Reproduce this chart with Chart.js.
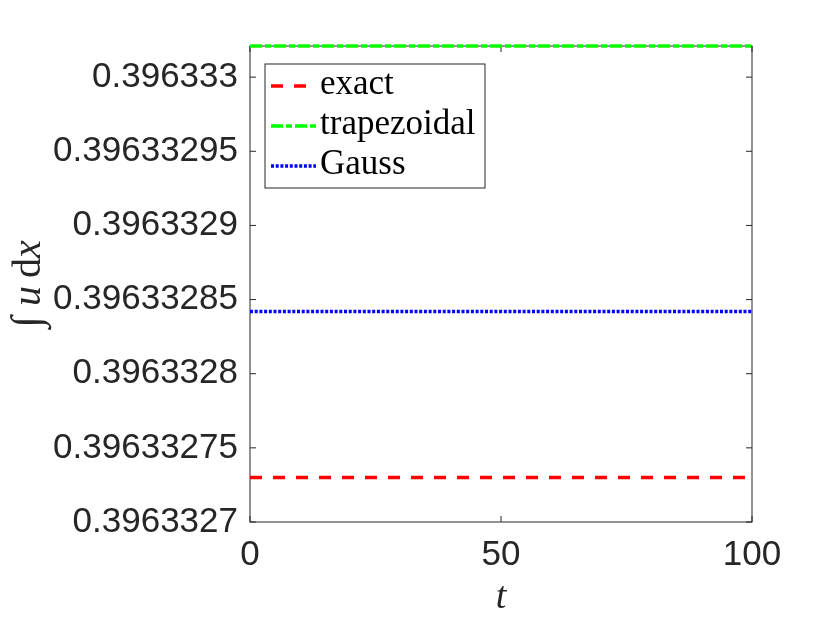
<!DOCTYPE html>
<html>
<head>
<meta charset="utf-8">
<script src="https://cdn.jsdelivr.net/npm/chart.js@4.4.1/dist/chart.umd.min.js"></script>
<style>
  body { margin: 0; background: #fff; }
</style>
</head>
<body>
<canvas id="myChart" width="830" height="623"></canvas>
<script>
// data
const tValues = [0, 100];
const exactValues = [0.39633273, 0.39633273];
const trapezoidalValues = [0.396333021, 0.396333021];
const gaussValues = [0.396332842, 0.396332842];

const yTickValues = [0.3963327, 0.39633275, 0.3963328, 0.39633285, 0.3963329, 0.39633295, 0.396333];
const yTickLabels = ['0.3963327', '0.39633275', '0.3963328', '0.39633285', '0.3963329', '0.39633295', '0.396333'];
const xTickValues = [0, 50, 100];
const xTickLabels = ['0', '50', '100'];

const yMin = 0.3963327;
const yMax = 0.396333021;

const axisColor = '#262626';

function points(vals) {
  return tValues.map((t, i) => ({ x: t, y: vals[i] }));
}

// box and inward ticks, drawn under the lines
const boxPlugin = {
  id: 'box',
  beforeDatasetsDraw(chart) {
    const ctx = chart.ctx;
    const a = chart.chartArea;
    ctx.save();
    ctx.strokeStyle = axisColor;
    ctx.lineWidth = 1;
    ctx.strokeRect(a.left, a.top, a.right - a.left, a.bottom - a.top);
    ctx.beginPath();
    chart.scales.y.ticks.forEach(tk => {
      const y = chart.scales.y.getPixelForValue(tk.value);
      ctx.moveTo(a.left, y); ctx.lineTo(a.left + 6, y);
      ctx.moveTo(a.right, y); ctx.lineTo(a.right - 6, y);
    });
    chart.scales.x.ticks.forEach(tk => {
      const x = chart.scales.x.getPixelForValue(tk.value);
      ctx.moveTo(x, a.bottom); ctx.lineTo(x, a.bottom - 6);
      ctx.moveTo(x, a.top); ctx.lineTo(x, a.top + 6);
    });
    ctx.stroke();
    ctx.restore();
  }
};

// y label: integral sign and d upright, u and x italic
const yLabelPlugin = {
  id: 'yLabel',
  afterDraw(chart) {
    const ctx = chart.ctx;
    const a = chart.chartArea;
    const parts = [
      ['\u222B', '42px "Liberation Serif", serif', 10],
      ['u', 'italic 40px "Liberation Serif", serif', 8],
      ['d', '40px "Liberation Serif", serif', 0],
      ['x', 'italic 40px "Liberation Serif", serif', 0]
    ];
    let total = 0;
    parts.forEach(p => { ctx.font = p[1]; total += ctx.measureText(p[0]).width + p[2]; });
    ctx.save();
    ctx.translate(40, (a.top + a.bottom) / 2);
    ctx.rotate(-Math.PI / 2);
    ctx.fillStyle = axisColor;
    ctx.textBaseline = 'alphabetic';
    let x = -total / 2;
    parts.forEach(p => {
      ctx.font = p[1];
      ctx.fillText(p[0], x, 0);
      x += ctx.measureText(p[0]).width + p[2];
    });
    ctx.restore();
  }
};

// MATLAB style legend in the upper left corner
const legendPlugin = {
  id: 'boxLegend',
  afterDatasetsDraw(chart) {
    const ctx = chart.ctx;
    const a = chart.chartArea;
    const x0 = a.left + 15, y0 = a.top + 18;
    const w = 220, h = 124;
    ctx.save();
    ctx.fillStyle = '#fff';
    ctx.fillRect(x0, y0, w, h);
    ctx.strokeStyle = axisColor;
    ctx.lineWidth = 1;
    ctx.strokeRect(x0, y0, w, h);
    ctx.font = '35px "Liberation Serif", serif';
    ctx.textBaseline = 'alphabetic';
    chart.data.datasets.forEach((ds, i) => {
      const cy = y0 + 22 + i * 40;
      ctx.beginPath();
      ctx.strokeStyle = ds.borderColor;
      ctx.lineWidth = ds.borderWidth;
      ctx.setLineDash(ds.borderDash || []);
      ctx.moveTo(x0 + 6, cy);
      ctx.lineTo(x0 + 51, cy);
      ctx.stroke();
      ctx.setLineDash([]);
      ctx.fillStyle = '#000';
      ctx.fillText(ds.label, x0 + 55, cy + 8);
    });
    ctx.restore();
  }
};

const data = {
  datasets: [{
    label: 'exact',
    data: points(exactValues),
    borderColor: '#ff0000',
    borderWidth: 3.5,
    borderDash: [12, 11],
    pointRadius: 0,
    clip: false
  }, {
    label: 'trapezoidal',
    data: points(trapezoidalValues),
    borderColor: '#00ff00',
    borderWidth: 3.5,
    borderDash: [12, 3, 6, 3],
    pointRadius: 0,
    clip: false
  }, {
    label: 'Gauss',
    data: points(gaussValues),
    borderColor: '#0000ff',
    borderWidth: 3.5,
    borderDash: [3, 1.7],
    pointRadius: 0,
    clip: false
  }]
};

const config = {
  type: 'line',
  data: data,
  plugins: [boxPlugin, legendPlugin, yLabelPlugin],
  options: {
    responsive: false,
    animation: false,
    layout: { padding: { left: 0, right: 78, top: 46, bottom: 0 } },
    plugins: {
      legend: { display: false },
      tooltip: { enabled: false }
    },
    scales: {
      x: {
        type: 'linear',
        min: 0,
        max: 100,
        afterFit: s => { s.height = 101; },
        afterBuildTicks: s => { s.ticks = xTickValues.map(v => ({ value: v })); },
        grid: { display: false, drawTicks: false },
        border: { display: false },
        ticks: {
          padding: 12,
          color: axisColor,
          font: { family: '"Liberation Sans", Arial, sans-serif', size: 35 },
          maxRotation: 0,
          callback: (v, i) => xTickLabels[i]
        },
        title: {
          display: true,
          text: 't',
          color: axisColor,
          font: { family: '"Liberation Serif", serif', size: 38, style: 'italic' },
          padding: { top: 0, bottom: 2 }
        }
      },
      y: {
        min: yMin,
        max: yMax,
        afterFit: s => { s.width = 250; },
        afterBuildTicks: s => { s.ticks = yTickValues.map(v => ({ value: v })); },
        grid: { display: false, drawTicks: false },
        border: { display: false },
        ticks: {
          padding: 12,
          color: axisColor,
          font: { family: '"Liberation Sans", Arial, sans-serif', size: 35 },
          callback: (v, i) => yTickLabels[i]
        }
      }
    }
  }
};

const myChart = new Chart(
  document.getElementById('myChart'),
  config
);
</script>
</body>
</html>
